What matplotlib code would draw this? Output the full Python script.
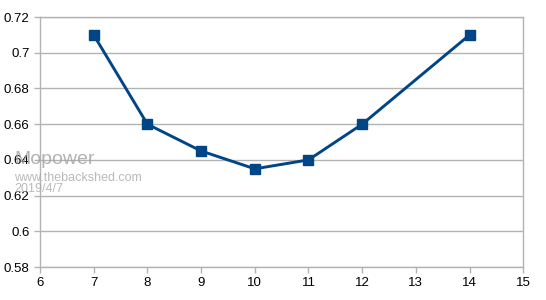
import matplotlib.pyplot as plt

plt.rcParams['font.family'] = ['Liberation Sans', 'DejaVu Sans']

# data
x_vals = [7, 8, 9, 10, 11, 12, 14]
y_vals = [0.71, 0.66, 0.645, 0.635, 0.64, 0.66, 0.71]
x_ticks = [6, 7, 8, 9, 10, 11, 12, 13, 14, 15]
y_ticks = [0.58, 0.6, 0.62, 0.64, 0.66, 0.68, 0.7, 0.72]
y_labels = ['0.58', '0.6', '0.62', '0.64', '0.66', '0.68', '0.7', '0.72']

fig = plt.figure(figsize=(5.46, 3.0), dpi=100)
ax = fig.add_axes([0.0733, 0.11, 0.885, 0.833])

grid_col = '#b3b3b3'
ax.plot(x_vals, y_vals, color='#004586', linewidth=2.1, marker='s',
        markersize=7.5, zorder=3)

ax.set_xlim(6, 15)
ax.set_ylim(0.58, 0.72)
ax.set_xticks(x_ticks)
ax.set_yticks(y_ticks)
ax.set_yticklabels(y_labels)
ax.grid(axis='y', color=grid_col, linewidth=1)
for s in ax.spines.values():
    s.set_color(grid_col)
    s.set_linewidth(1)
ax.tick_params(colors=grid_col, labelcolor='black', labelsize=9.5,
               length=4, width=1, direction='out')
ax.tick_params(axis='x', pad=3)

# watermark (overlaps the tick labels in the original too)
fig.text(14 / 546, 1 - 160 / 300, 'Mopower', fontsize=14, color='#a0a0a0',
         alpha=0.8, va='center', ha='left')
fig.text(14 / 546, 1 - 178 / 300, 'www.thebackshed.com', fontsize=9,
         color='#a8a8a8', alpha=0.8, va='center', ha='left')
fig.text(14 / 546, 1 - 189 / 300, '2019/4/7', fontsize=9, color='#a8a8a8',
         alpha=0.8, va='center', ha='left')

plt.savefig('out.png', dpi=100)
